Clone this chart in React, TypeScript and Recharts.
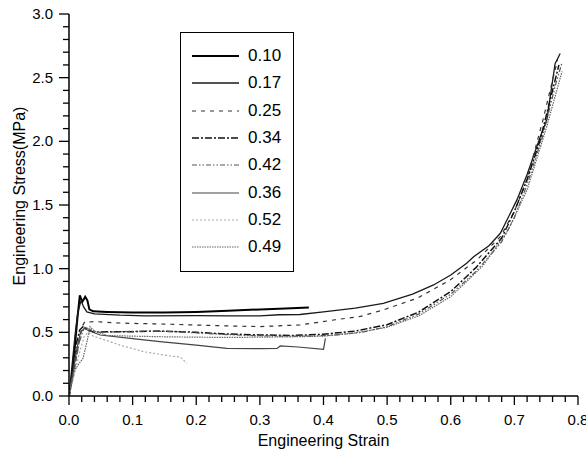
import React from 'react';
import { LineChart, Line, XAxis, YAxis } from 'recharts';

// strain / stress pairs, one array per sample
const s010: [number, number][] = [
  [0, 0], [0.004, 0.12], [0.009, 0.38], [0.013, 0.6], [0.017, 0.79], [0.021, 0.74],
  [0.0255, 0.78], [0.029, 0.75], [0.032, 0.68], [0.038, 0.665], [0.06, 0.66], [0.1, 0.655],
  [0.15, 0.655], [0.2, 0.66], [0.25, 0.67], [0.3, 0.68], [0.34, 0.688], [0.377, 0.695],
];
const s017: [number, number][] = [
  [0, 0], [0.005, 0.25], [0.01, 0.5], [0.014, 0.66], [0.019, 0.75], [0.023, 0.7],
  [0.028, 0.66], [0.04, 0.645], [0.08, 0.635], [0.12, 0.63], [0.2, 0.632], [0.25, 0.63],
  [0.3, 0.63], [0.33, 0.638], [0.363, 0.64], [0.4, 0.66], [0.45, 0.69], [0.494, 0.728],
  [0.54, 0.8], [0.573, 0.872], [0.6, 0.95], [0.625, 1.042], [0.636, 1.094], [0.66, 1.18],
  [0.678, 1.278], [0.704, 1.54], [0.72, 1.74], [0.741, 2.04], [0.751, 2.168], [0.764, 2.61],
  [0.772, 2.69],
];
const s025: [number, number][] = [
  [0, 0], [0.008, 0.2], [0.015, 0.4], [0.021, 0.55], [0.025, 0.585], [0.03, 0.58],
  [0.04, 0.585], [0.07, 0.575], [0.1, 0.57], [0.15, 0.565], [0.195, 0.558], [0.25, 0.55],
  [0.3, 0.545], [0.363, 0.558], [0.416, 0.597], [0.458, 0.625], [0.494, 0.676], [0.547, 0.767],
  [0.599, 0.911], [0.641, 1.068], [0.678, 1.251], [0.7, 1.45], [0.72, 1.7], [0.745, 2.17],
  [0.761, 2.5], [0.768, 2.64],
];
const s034: [number, number][] = [
  [0, 0], [0.006, 0.22], [0.012, 0.42], [0.017, 0.52], [0.022, 0.545], [0.03, 0.52],
  [0.04, 0.5], [0.06, 0.505], [0.1, 0.505], [0.143, 0.51], [0.2, 0.5], [0.248, 0.487],
  [0.3, 0.48], [0.35, 0.475], [0.4, 0.485], [0.45, 0.51], [0.5, 0.56], [0.55, 0.66],
  [0.6, 0.82], [0.64, 1.01], [0.68, 1.24], [0.7, 1.45], [0.72, 1.7], [0.74, 2.0],
  [0.76, 2.4], [0.77, 2.6],
];
const s042: [number, number][] = [
  [0, 0], [0.008, 0.2], [0.016, 0.42], [0.024, 0.54], [0.03, 0.53], [0.045, 0.5],
  [0.08, 0.505], [0.12, 0.51], [0.17, 0.505], [0.22, 0.49], [0.28, 0.475], [0.33, 0.47],
  [0.38, 0.47], [0.42, 0.48], [0.46, 0.5], [0.5, 0.545], [0.55, 0.645], [0.6, 0.8],
  [0.64, 0.98], [0.68, 1.21], [0.7, 1.4], [0.72, 1.66], [0.745, 2.05], [0.765, 2.45],
  [0.775, 2.62],
];
const s036: [number, number][] = [
  [0, 0], [0.006, 0.18], [0.012, 0.36], [0.018, 0.5], [0.024, 0.53], [0.032, 0.51],
  [0.049, 0.479], [0.1, 0.45], [0.143, 0.427], [0.2, 0.4], [0.248, 0.374], [0.3, 0.372],
  [0.327, 0.374], [0.332, 0.393], [0.36, 0.385], [0.4, 0.367], [0.403, 0.453],
];
const s052: [number, number][] = [
  [0, 0], [0.008, 0.16], [0.016, 0.33], [0.024, 0.47], [0.03, 0.5], [0.038, 0.47],
  [0.049, 0.453], [0.08, 0.4], [0.117, 0.348], [0.14, 0.33], [0.159, 0.314], [0.175, 0.306],
  [0.185, 0.257],
];
const s049: [number, number][] = [
  [0, 0], [0.004, 0.12], [0.0094, 0.204], [0.015, 0.25], [0.022, 0.296], [0.028, 0.42],
  [0.033, 0.544], [0.04, 0.51], [0.06, 0.475], [0.1, 0.47], [0.15, 0.465], [0.2, 0.462],
  [0.25, 0.46], [0.3, 0.462], [0.35, 0.465], [0.4, 0.47], [0.45, 0.495], [0.5, 0.54],
  [0.55, 0.63], [0.6, 0.78], [0.65, 1.02], [0.69, 1.3], [0.72, 1.62], [0.75, 2.1],
  [0.775, 2.55],
];

const xTicks = Array.from({ length: 41 }, (_, i) => Math.round(i * 2) / 100);
const yTicks = Array.from({ length: 31 }, (_, i) => i / 10);

const FONT = '"Liberation Sans", Arial, Helvetica, sans-serif';

const series = [
  { name: '0.10', pts: s010, stroke: '#000', width: 2, dash: undefined },
  { name: '0.17', pts: s017, stroke: '#1a1a1a', width: 1.3, dash: undefined },
  { name: '0.25', pts: s025, stroke: '#333', width: 1.2, dash: '4 5' },
  { name: '0.34', pts: s034, stroke: '#111', width: 1.5, dash: '7 2 2 2' },
  { name: '0.42', pts: s042, stroke: '#555', width: 1.2, dash: '5 2 1.5 2 1.5 2' },
  { name: '0.36', pts: s036, stroke: '#444', width: 1.2, dash: undefined },
  { name: '0.52', pts: s052, stroke: '#aaa', width: 1.2, dash: '2 2' },
  { name: '0.49', pts: s049, stroke: '#666', width: 1.2, dash: '1.5 1' },
];

const isMajor = (v: number, step: number) => Math.abs(v / step - Math.round(v / step)) < 1e-6;

const XTick = ({ x, y, payload }: any) => {
  const major = isMajor(payload.value, 0.1);
  return (
    <g>
      <line x1={x} y1={y} x2={x} y2={y + (major ? 9 : 6)} stroke="#000" strokeWidth={1.3} />
      {major && (
        <text x={x} y={y + 29} textAnchor="middle" fontSize={15} fontFamily={FONT} fill="#000">
          {payload.value.toFixed(1)}
        </text>
      )}
    </g>
  );
};

const YTick = ({ x, y, payload }: any) => {
  const major = isMajor(payload.value, 0.5);
  return (
    <g>
      <line x1={x - (major ? 10 : 6)} y1={y} x2={x} y2={y} stroke="#000" strokeWidth={1.3} />
      {major && (
        <text x={x - 16} y={y + 5} textAnchor="end" fontSize={15} fontFamily={FONT} fill="#000">
          {payload.value.toFixed(1)}
        </text>
      )}
    </g>
  );
};

function LegendBox() {
  return (
    <div
      style={{
        position: 'absolute', left: 180, top: 32, width: 114, height: 240,
        border: '1.5px solid #000', background: '#fff', boxSizing: 'border-box',
      }}
    >
      {series.map((s, i) => (
        <div key={s.name} style={{ position: 'absolute', left: 0, top: 11 + i * 27.3, height: 22, width: 110 }}>
          <svg width={52} height={22} style={{ position: 'absolute', left: 10, top: 0 }}>
            <line x1={1} y1={12} x2={48} y2={12} stroke={s.stroke} strokeWidth={s.width} strokeDasharray={s.dash} />
          </svg>
          <span style={{ position: 'absolute', left: 67, top: 1, fontSize: 17, fontFamily: FONT, color: '#000', lineHeight: '22px' }}>
            {s.name}
          </span>
        </div>
      ))}
    </div>
  );
}

export default function App() {
  return (
    <div style={{ position: 'absolute', left: 0, top: 0, width: 586, height: 457, background: '#fff' }}>
      <LineChart width={586} height={457} margin={{ top: 14, right: 8, bottom: 0, left: 0 }}>
        <XAxis
          type="number"
          dataKey="x"
          domain={[0, 0.8]}
          ticks={xTicks}
          interval={0}
          tick={<XTick />}
          tickLine={false}
          tickSize={0}
          tickMargin={0}
          height={61}
          axisLine={{ stroke: '#000', strokeWidth: 1.5 }}
          allowDataOverflow
          label={{
            value: 'Engineering Strain', position: 'insideBottom', offset: 11,
            style: { fontSize: 16, fontFamily: FONT, fill: '#000' },
          }}
        />
        <YAxis
          type="number"
          domain={[0, 3]}
          ticks={yTicks}
          interval={0}
          tick={<YTick />}
          tickLine={false}
          tickSize={0}
          tickMargin={0}
          width={69}
          axisLine={{ stroke: '#000', strokeWidth: 1.5 }}
          allowDataOverflow
          label={{
            content: () => (
              <text
                x={25}
                y={196}
                transform="rotate(-90, 25, 196)"
                textAnchor="middle"
                fontSize={16}
                fontFamily={FONT}
                fill="#000"
              >
                Engineering Stress(MPa)
              </text>
            ),
          }}
        />
        {series.map((s) => (
          <Line
            key={s.name}
            data={s.pts.map(([x, y]) => ({ x, y }))}
            dataKey="y"
            type="linear"
            stroke={s.stroke}
            strokeWidth={s.width}
            strokeDasharray={s.dash}
            dot={false}
            activeDot={false}
            isAnimationActive={false}
          />
        ))}
      </LineChart>
      <LegendBox />
    </div>
  );
}
